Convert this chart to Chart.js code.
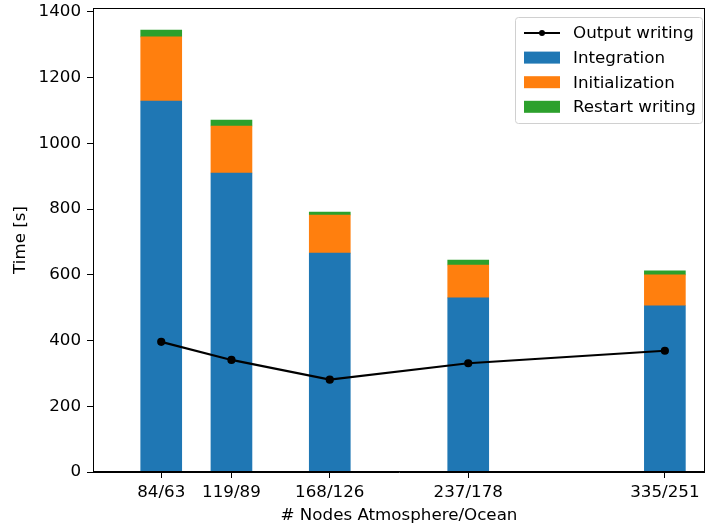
<!DOCTYPE html>
<html>
<head>
<meta charset="utf-8">
<script src="https://cdn.jsdelivr.net/npm/chart.js@4/dist/chart.umd.min.js"></script>
<style>
  html, body { margin: 0; padding: 0; background: #fff; }
  #wrap { width: 705px; height: 526px; }
</style>
</head>
<body>
<div id="wrap"><canvas id="chart" width="705" height="526"></canvas></div>
<script>
// nodes (atmosphere) used as x position, labels "atm/ocean"
const nodesAtm = [84, 119, 168, 237, 335];
const tickLabels = ['84/63', '119/89', '168/126', '237/178', '335/251'];

const integration = [1129, 910, 666, 530, 506];
const initialization = [195, 143, 116, 100, 94];
const restartWriting = [21, 18, 9, 15, 12];
const outputWriting = [396, 341, 281, 331, 369];

const yTicks = [0, 200, 400, 600, 800, 1000, 1200, 1400];

const FONT = 'DejaVu Sans';
const FS = 16.7;
const pts = arr => arr.map((v, i) => ({ x: nodesAtm[i], y: v }));

const bar = (label, data, color) => ({
  type: 'bar', label, data: pts(data), backgroundColor: color,
  barThickness: 41, stack: 'bars', order: 1, borderWidth: 0
});

// matplotlib-style frame + legend
const mplDecor = {
  id: 'mplDecor',
  afterDraw(chart) {
    const { ctx, chartArea: a } = chart;
    ctx.save();
    ctx.strokeStyle = '#000';
    ctx.lineWidth = 1;
    ctx.strokeRect(a.left + 0.5, a.top + 0.5, a.right - a.left - 1, a.bottom - a.top - 1);

    // legend box
    const w = 187, h = 106;
    const x0 = a.right - 3 - w, y0 = a.top + 9;
    ctx.beginPath();
    ctx.roundRect(x0 + 0.5, y0 + 0.5, w, h, 3);
    ctx.fillStyle = 'rgba(255,255,255,0.8)';
    ctx.fill();
    ctx.strokeStyle = '#d0d0d0';
    ctx.stroke();

    const ds = chart.data.datasets;
    const items = ds.filter(d => d.type === 'line').concat(ds.filter(d => d.type === 'bar'));
    ctx.font = `${FS}px "${FONT}"`;
    ctx.textBaseline = 'middle';
    items.forEach((d, i) => {
      const cy = y0 + 16 + i * 24.6;
      const hx = x0 + 9;
      if (d.type === 'line') {
        ctx.strokeStyle = d.borderColor;
        ctx.lineWidth = 2;
        ctx.beginPath();
        ctx.moveTo(hx, cy); ctx.lineTo(hx + 36, cy);
        ctx.stroke();
        ctx.fillStyle = d.borderColor;
        ctx.beginPath();
        ctx.arc(hx + 18, cy, 3, 0, Math.PI * 2);
        ctx.fill();
      } else {
        ctx.fillStyle = d.backgroundColor;
        ctx.fillRect(hx, cy - 6, 36, 12);
      }
      ctx.fillStyle = '#000';
      ctx.fillText(d.label, x0 + 58, cy + 1);
    });
    ctx.restore();
  }
};

new Chart(document.getElementById('chart'), {
  data: {
    datasets: [
      {
        type: 'line', label: 'Output writing', data: pts(outputWriting),
        borderColor: '#000', backgroundColor: '#000', borderWidth: 2.2,
        pointRadius: 3, pointBackgroundColor: '#000', stack: 'line', order: 0, tension: 0
      },
      bar('Integration', integration, '#1f77b4'),
      bar('Initialization', initialization, '#ff7f0e'),
      bar('Restart writing', restartWriting, '#2ca02c')
    ]
  },
  options: {
    responsive: false, animation: false,
    layout: { autoPadding: false, padding: { left: 0, right: 0, top: 8, bottom: 0 } },
    plugins: { legend: { display: false }, tooltip: { enabled: false } },
    scales: {
      x: {
        type: 'linear', min: 50, max: 355, stacked: true, offset: false,
        afterBuildTicks: s => { s.ticks = nodesAtm.map(v => ({ value: v })); },
        afterFit: s => { s.height = 54; s.paddingLeft = 0; s.paddingRight = 0; },
        grid: { drawOnChartArea: false, drawTicks: true, tickLength: 6, tickColor: '#000', offset: false },
        border: { display: true, color: '#000' },
        ticks: {
          color: '#000', font: { family: FONT, size: FS }, padding: 5, maxRotation: 0, autoSkip: false,
          callback: v => tickLabels[nodesAtm.indexOf(v)]
        },
        title: { display: true, text: '# Nodes Atmosphere/Ocean', color: '#000', font: { family: FONT, size: FS }, padding: { top: 0, bottom: 0 } }
      },
      y: {
        min: 0, max: 1412, stacked: true,
        afterBuildTicks: s => { s.ticks = yTicks.map(v => ({ value: v })); },
        afterFit: s => { s.width = 93; s.paddingTop = 0; s.paddingBottom = 0; },
        grid: { drawOnChartArea: false, drawTicks: true, tickLength: 6, tickColor: '#000' },
        border: { display: true, color: '#000' },
        ticks: { color: '#000', font: { family: FONT, size: FS }, padding: 6, callback: v => String(v) },
        title: { display: true, text: 'Time [s]', color: '#000', font: { family: FONT, size: FS }, padding: { top: 11, bottom: 0 } }
      }
    }
  },
  plugins: [mplDecor]
});
</script>
</body>
</html>
